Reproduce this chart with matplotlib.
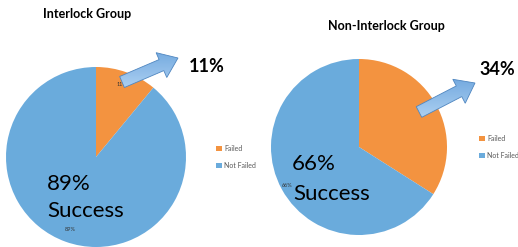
import numpy as np
import matplotlib.pyplot as plt
from matplotlib.patches import FancyArrow
from matplotlib.colors import LinearSegmentedColormap

# data
labels = ["Failed", "Not Failed"]
interlock = [11, 89]
non_interlock = [34, 66]
titles = ["Interlock Group", "Non-Interlock Group"]

colors = ['#f39340', '#6aabdc']
W, H = 518, 247

plt.rcParams['font.family'] = ['Lato', 'DejaVu Sans']

fig = plt.figure(figsize=(W / 100, H / 100), dpi=100)


def px_axes(left, top, size):
    # axes placed by pixel box (top-left origin)
    return fig.add_axes([left / W, 1 - (top + size) / H, size / W, size / H])


def draw_pie(ax, values, pct_pos, leg_xy):
    wedges, texts, autotexts = ax.pie(values, colors=colors, startangle=90, counterclock=False,
                                      autopct='%d%%', pctdistance=0.86,
                                      wedgeprops=dict(linewidth=0),
                                      textprops=dict(fontsize=4, color='#333333'))
    for t, pos in zip(autotexts, pct_pos):
        if pos is not None:
            t.set_position(pos)
    ax.set_xlim(-1, 1)
    ax.set_ylim(-1, 1)
    ax.legend(wedges, labels, loc='center left', frameon=False, fontsize=5,
              bbox_to_anchor=(leg_xy[0] / W, 1 - leg_xy[1] / H), bbox_transform=fig.transFigure,
              handlelength=0.8, handleheight=0.8, handletextpad=0.3, labelspacing=1.4,
              labelcolor='#595959')
    return wedges


ax1 = px_axes(6, 67, 180)
draw_pie(ax1, interlock, [None, None], (210, 157))

ax2 = px_axes(271, 59, 176)
draw_pie(ax2, non_interlock, [None, (-0.82, -0.44)], (473, 147))

# overlay in pixel coordinates
ov = fig.add_axes([0, 0, 1, 1])
ov.set_xlim(0, W)
ov.set_ylim(H, 0)
ov.axis('off')
ov.patch.set_alpha(0)

ov.text(87, 14, titles[0], ha='center', va='center', fontsize=9, fontweight='bold')
ov.text(386, 26, titles[1], ha='center', va='center', fontsize=9, fontweight='bold')

# big annotations
ov.text(47, 190, f"{interlock[1]}%", ha='left', va='baseline', fontsize=16)
ov.text(47, 217, "Success", ha='left', va='baseline', fontsize=16)
ov.text(292, 170, f"{non_interlock[1]}%", ha='left', va='baseline', fontsize=16)
ov.text(293, 200, "Success", ha='left', va='baseline', fontsize=16)

ov.text(189, 72, f"{interlock[0]}%", ha='left', va='baseline', fontsize=13, fontweight='bold')
ov.text(479, 75, f"{non_interlock[0]}%", ha='left', va='baseline', fontsize=13, fontweight='bold')

# gradient arrows
grad = np.linspace(0, 1, 100).reshape(-1, 1)
cmap = LinearSegmentedColormap.from_list('arr', ['#b5d6f5', '#5e9bd8'])

for (x0, y0, x1, y1) in [(122, 82, 178, 58), (419, 112, 475, 83)]:
    arr = FancyArrow(x0, y0, x1 - x0, y1 - y0, width=12, head_width=27, head_length=18,
                     length_includes_head=True, facecolor='none', edgecolor='#4f86c0',
                     linewidth=0.6, zorder=4)
    ov.add_patch(arr)
    im = ov.imshow(grad, cmap=cmap, aspect='auto', extent=(x0 - 5, x1 + 5, y1 - 20, y0 + 12),
                   zorder=3)
    im.set_clip_path(arr)

ov.set_xlim(0, W)
ov.set_ylim(H, 0)

fig.savefig('out.png', dpi=100)
